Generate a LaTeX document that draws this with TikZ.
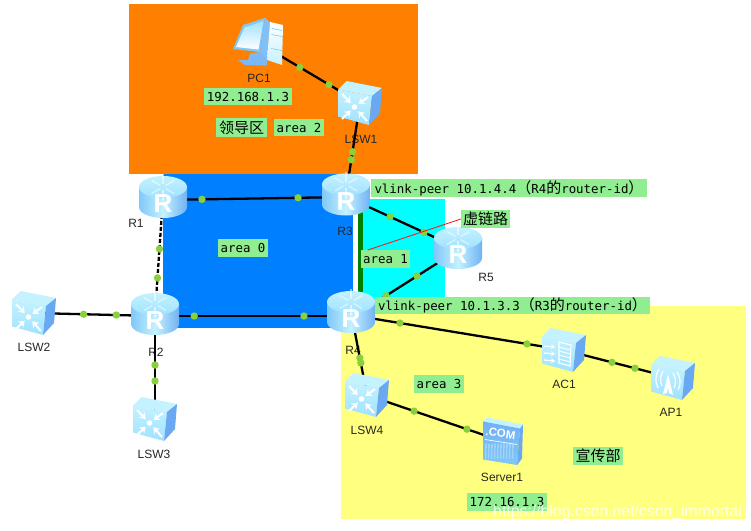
\documentclass[tikz,border=0pt]{standalone}
\usepackage{fontspec}
\setmainfont{Liberation Sans}
\newfontfamily\monof{DejaVu Sans Mono}
\newfontfamily\cjkf{Noto Sans CJK SC}
\usetikzlibrary{arrows.meta,calc}
\definecolor{orangezone}{HTML}{FF8000}
\definecolor{bluezone}{HTML}{0080FF}
\definecolor{cyanzone}{HTML}{00FFFF}
\definecolor{yellowzone}{HTML}{FFFF80}
\definecolor{tagfill}{HTML}{90EE90}
\definecolor{dotgreen}{HTML}{8AD03C}
\definecolor{icL}{HTML}{C4F2FF}
\definecolor{icM}{HTML}{A0E2FF}
\definecolor{icD}{HTML}{80C8F8}
\definecolor{icS}{HTML}{6AA8F2}
\newcommand{\mn}[1]{{\monof\fontsize{12.4}{14}\selectfont #1}}
\newcommand{\cj}[1]{{\cjkf\fontsize{15}{15}\selectfont #1}}
\tikzset{
  x=1pt,y=-1pt,
  devbox/.style={inner sep=0pt,outer sep=0pt,minimum width=4pt,minimum height=4pt},
  devlabel/.style={inner sep=0pt,font=\fontsize{12}{12}\selectfont,text=black!85},
  tag/.style={fill=tagfill,inner sep=0pt,minimum height=17.5pt,text=black},
  link/.style={draw=black,line width=2.3pt},
  dashlink/.style={draw=black,line width=2.3pt,dash pattern=on 4pt off 2pt},
  dot/.style={circle,fill=dotgreen,inner sep=0pt,minimum size=7.4pt},
  pics/router/.style={code={
    \shade[left color=icD,right color=icS!70!icD,middle color=icL]
      (-24,-10) -- (-24,10) arc[start angle=180,end angle=0,x radius=24pt,y radius=-11pt] -- (24,-10) -- cycle;
    \shade[top color=icL,bottom color=icM] (0,-10) ellipse[x radius=24pt,y radius=11pt];
    \foreach \a in {30,90,150,210,270,330}
      \draw[white,opacity=.55,line width=1.3pt] (0,-10) ++(\a:3pt) -- ++(\a:10pt);
    \node[inner sep=0pt,text=white,font=\bfseries\fontsize{26}{26}\selectfont] at (0,7) {R};
  }},
  pics/boxbody/.style={code={
    \fill[icL] (-22,-13.5) -- (-13.5,-22) -- (22,-15) -- (12,-7) -- cycle;
    \shade[top color=icL,bottom color=icM] (-22,-13.5) -- (12,-7) -- (9,22) -- (-22,13.5) -- cycle;
    \fill[icS] (12,-7) -- (22,-15) -- (20,10) -- (9,22) -- cycle;
  }},
  pics/switchicon/.style={code={
    \pic {boxbody};
    \foreach \p/\q in {-18/-9,8/-6,-18/16,7/18}{
      \draw[white,line width=2pt,-{Stealth[length=6pt,width=8pt]}] (\p,\q) -- ($(-5.5,4)!0.3!(\p,\q)$);
    }
    \fill[white] (-5.5,4) circle[radius=2.8pt];
  }},
  pics/acicon/.style={code={
    \pic {boxbody};
    \foreach \q in {-4,3,10}
      \draw[white,line width=1.2pt,-{Stealth[length=4pt,width=5pt]}] (-20,\q) -- (-9,\q+1);
    \draw[white,line width=1.2pt] (-5,-8) -- (7,-5) -- (6,16) -- (-5,13) -- cycle;
    \foreach \q in {-3,1,5,9}
      \draw[white,line width=.9pt] (-5,\q) -- (6.5,\q+3);
  }},
  pics/apicon/.style={code={
    \pic {boxbody};
    \fill[white] (-5,-4) -- (-10,16) -- (-6,15) -- (-5,9) -- (-4,15) -- (0,17) -- cycle;
    \draw[white,line width=1.1pt] (-10,-7) .. controls (-13,-2) and (-13,3) .. (-11,8);
    \draw[white,line width=1.1pt] (-14,-9) .. controls (-18,-3) and (-18,4) .. (-15,10);
    \draw[white,line width=1.1pt] (0,-5) .. controls (3,0) and (3,5) .. (1,10);
    \draw[white,line width=1.1pt] (4,-6) .. controls (8,0) and (8,6) .. (5,12);
  }},
  pics/servericon/.style={code={
    \fill[icL] (-20,-20) -- (-16,-24) -- (20,-17) -- (17,-13) -- cycle;
    \shade[top color=icS!85!icM,bottom color=icD] (-20,-20) -- (17,-13) -- (14,23.5) -- (-20,18) -- cycle;
    \fill[icS] (17,-13) -- (20,-17) -- (19,17) -- (14,23.5) -- cycle;
    \node[inner sep=0pt,text=white,rotate=-8,font=\bfseries\fontsize{11.5}{11.5}\selectfont] at (-2.5,-8) {.COM};
    \draw[white,line width=.7pt] (-18,-2) -- (14,3);
    \foreach \v in {-17,-14,-11,-8,-5,-2,1,4,7,10}
      \draw[white,opacity=.8,line width=.6pt] (\v,2) -- (\v-.2,17);
  }},
  pics/pcicon/.style={code={
    \fill[icS!70!icM] (-8,11) -- (-10,17.5) -- (-20,17.5) -- (-13,22.5) -- (9,23) -- (9,17.5) -- (2,9.5) -- cycle;
    \fill[icD] (-15,-17.5) -- (7,-24.5) -- (2,9.5) -- (-25,6.5) -- cycle;
    \shade[top color=icM,bottom color=white] (-13.5,-15) -- (5.5,-21.5) -- (.5,7) -- (-22,4.5) -- cycle;
    \fill[icS!60!icM] (7,-24.5) -- (12,-20.5) -- (9,17.5) -- (2,9.5) -- cycle;
    \shade[top color=white,bottom color=icL] (12,-20.5) -- (25,-17.5) -- (24,22.5) -- (9,17.5) -- cycle;
    \draw[icD,line width=.6pt] (14,-14) -- (24,-12) (13.5,-8) -- (24,-6) (13,6) -- (24,8);
  }}
}
\begin{document}
\begin{tikzpicture}
\useasboundingbox (0,0) rectangle (751,530);
\fill[white] (0,0) rectangle (751,530);
% zones
\fill[bluezone] (163,174) rectangle (353,328);
\fill[orangezone] (129,4) rectangle (418,174);
\fill[cyanzone] (362,199) rectangle (445,300);
\fill[yellowzone] (340.5,306) rectangle (746,519);
\fill[green!50!black] (358,212) rectangle (362.5,292);
% device anchors
\node[devbox] (pc1) at (258,42.5) {};
\node[devbox] (lsw1) at (360,103) {};
\node[devbox] (r1) at (163,197) {};
\node[devbox] (r3) at (346,194.5) {};
\node[devbox] (r5) at (458,248) {};
\node[devbox] (r2) at (155,314) {};
\node[devbox] (r4) at (351,312) {};
\node[devbox] (lsw2) at (34,313) {};
\node[devbox] (lsw3) at (155,419) {};
\node[devbox] (lsw4) at (367,395) {};
\node[devbox] (ac1) at (564,350) {};
\node[devbox] (ap1) at (673,378) {};
\node[devbox] (srv) at (503,441.5) {};
% device labels
\node[devlabel] (lpc1) at (259,78) {PC1};
\node[devlabel] (llsw1) at (361,139) {LSW1};
\node[devlabel] (lr1) at (136,223) {R1};
\node[devlabel] (lr3) at (345,231.5) {R3};
\node[devlabel] (lr5) at (486,277) {R5};
\node[devlabel] (lr2) at (156,352) {R2};
\node[devlabel] (lr4) at (353,350) {R4};
\node[devlabel] (llsw2) at (34,347) {LSW2};
\node[devlabel] (llsw3) at (154,454) {LSW3};
\node[devlabel] (llsw4) at (367,430) {LSW4};
\node[devlabel] (lac1) at (564,384) {AC1};
\node[devlabel] (lap1) at (671,412) {AP1};
\node[devlabel] (lsrv) at (502,477) {Server1};
% links
\draw[link] (pc1.center) -- (lsw1.center) node[dot,pos=.41]{} node[dot,pos=.696]{};
\draw[link] (lsw1.center) -- (r3.center) node[dot,pos=.533]{} node[dot,pos=.62]{};
\draw[link] ([yshift=-3pt]r1.center) -- ([yshift=-2.5pt]r3.center) node[dot,pos=.213]{} node[dot,pos=.738]{};
\draw[white,line width=2.3pt] (r1.center) -- (r2.center);
\draw[dashlink] (r1.center) -- (r2.center) node[dot,solid,pos=.444]{} node[dot,solid,pos=.692]{};
\draw[link] ([yshift=-2pt]r2.center) -- ([yshift=-4pt]r4.center) node[dot,pos=.2]{} node[dot,pos=.76]{};
\draw[link] (lsw2.center) -- ([yshift=-2pt]r2.center) node[dot,pos=.41]{} node[dot,pos=.68]{};
\draw[link] (r2.center) -- (lsw3.center) node[dot,pos=.486]{} node[dot,pos=.638]{};
\draw[link] ([yshift=-2pt]r3.center) -- (r5.center) node[dot,pos=.393]{} node[dot,pos=.696]{};
\draw[link] ([yshift=-6pt]r4.center) -- ([yshift=-2pt]r5.center) node[dot,pos=.327]{} node[dot,pos=.617]{};
\draw[link] ([yshift=-3pt]r4.center) -- (ac1.center) node[dot,pos=.23]{} node[dot,pos=.826]{};
\draw[link] (ac1.center) -- (ap1.center) node[dot,pos=.44]{} node[dot,pos=.651]{};
\draw[link] (r4.center) -- (lsw4.center) node[dot,pos=.554]{} node[dot,pos=.614]{};
\draw[link] (lsw4.center) -- (srv.center) node[dot,pos=.346]{} node[dot,pos=.735]{};
% icons
\pic at (pc1.center) {pcicon};
\pic at (lsw1.center) {switchicon};
\pic at (lsw2.center) {switchicon};
\pic at (lsw3.center) {switchicon};
\pic at (lsw4.center) {switchicon};
\pic at (ac1.center) {acicon};
\pic at (ap1.center) {apicon};
\pic at (srv.center) {servericon};
\pic at (r1.center) {router};
\pic at (r2.center) {router};
\pic at (r3.center) {router};
\pic at (r4.center) {router};
\pic at (r5.center) {router};
% tags
\node[tag,minimum width=88pt] (ipa) at (248,96.5) {\mn{192.168.1.3}};
\node[tag,minimum width=51pt,minimum height=19pt] (lead) at (241.5,127.5) {\cj{领导区}};
\node[tag,minimum width=50pt] (a2) at (299,127.5) {\mn{area 2}};
\node[tag,minimum width=50pt] (a0) at (243,248) {\mn{area 0}};
\node[tag,minimum width=49pt] (a1) at (385.5,259) {\mn{area 1}};
\node[tag,minimum width=50pt] (a3) at (439,384) {\mn{area 3}};
\node[tag,minimum width=49pt] (vl) at (485.5,219) {\cj{虚链路}};
\node[tag,minimum width=276pt] (p1) at (509,188) {\mn{vlink-peer 10.1.4.4}\cj{（}\mn{R4}\cj{的}\mn{router-id}\cj{）}};
\node[tag,minimum width=275pt] (p2) at (512.5,305.5) {\mn{vlink-peer 10.1.3.3}\cj{（}\mn{R3}\cj{的}\mn{router-id}\cj{）}};
\node[tag,minimum width=80pt] (ipb) at (507,502) {\mn{172.16.1.3}};
\node[tag,minimum width=50pt,minimum height=18pt] (dept) at (598,456) {\cj{宣传部}};
\draw[red!85!gray,line width=.8pt] (vl.west) -- ([xshift=7pt]a1.north west);
\node[inner sep=0pt,text=white,opacity=.8,font=\fontsize{15.8}{16}\selectfont] (wm) at (617.5,512) {https://blog.csdn.net/csdn\_immortal};
\end{tikzpicture}
\end{document}
